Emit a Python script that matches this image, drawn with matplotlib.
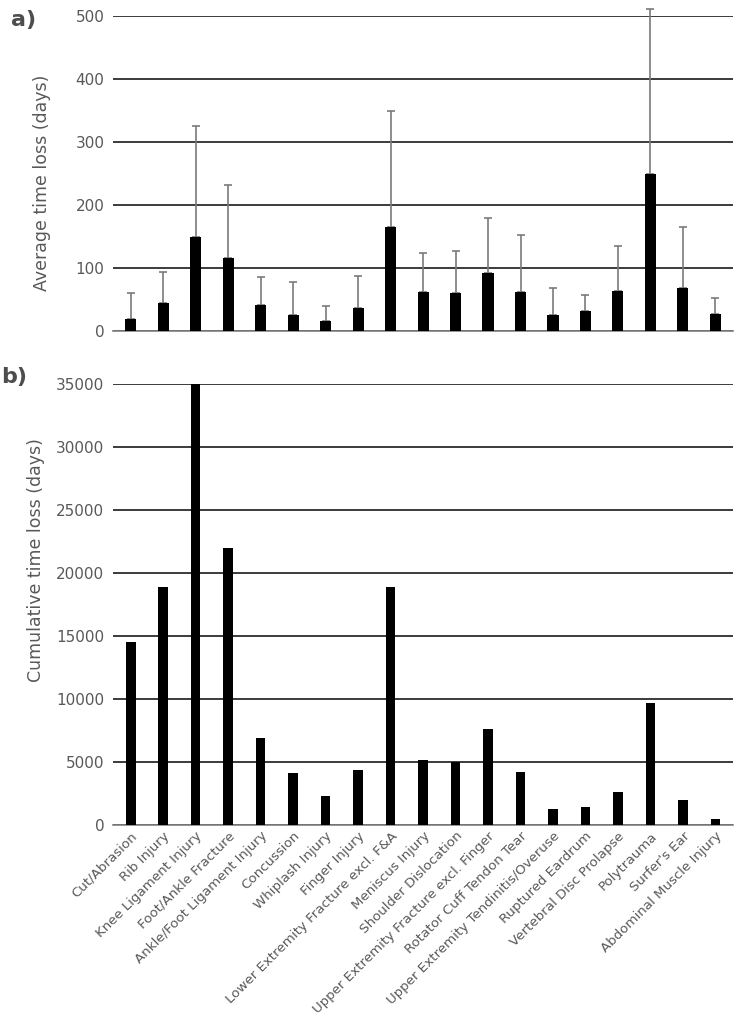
import numpy as np
import matplotlib
matplotlib.use("Agg")
import matplotlib.pyplot as plt

# Datos
categorias = ["Cut/Abrasion", "Rib Injury", "Knee Ligament Injury", "Foot/Ankle Fracture",
              "Ankle/Foot Ligament Injury", "Concussion", "Whiplash Injury", "Finger Injury",
              "Lower Extremity Fracture excl. F&A", "Meniscus Injury", "Shoulder Dislocation",
              "Upper Extremity Fracture excl. Finger", "Rotator Cuff Tendon Tear",
              "Upper Extremity Tendinitis/Overuse", "Ruptured Eardrum", "Vertebral Disc Prolapse",
              "Polytrauma", "Surfer's Ear", "Abdominal Muscle Injury"]
promedio = [19, 44, 149, 116, 41, 25, 16, 37, 165, 62, 60, 92, 62, 25, 32, 64, 249, 68, 27]
desviacion = [41, 50, 176, 116, 45, 53, 24, 51, 185, 61, 67, 88, 91, 43, 25, 71, 263, 97, 26]
acumulado = [14500, 18900, 35000, 22000, 6900, 4100, 2300, 4400, 18900, 5200, 5000,
             7600, 4200, 1300, 1450, 2600, 9650, 2000, 500]

gris = "#595959"
x = np.arange(len(categorias))

fig = plt.figure(figsize=(7.37, 10.15), dpi=100)
ax1 = fig.add_axes([0.153, 0.674, 0.842, 0.310])
ax2 = fig.add_axes([0.153, 0.187, 0.842, 0.435])

for ax in (ax1, ax2):
    for s in ("top", "right", "left"):
        ax.spines[s].set_visible(False)
    ax.spines["bottom"].set_color("#808080")
    ax.spines["bottom"].set_linewidth(1.2)
    ax.yaxis.grid(True, color="#1a1a1a", linewidth=1.2, zorder=0)
    ax.set_axisbelow(True)
    ax.tick_params(axis="both", length=0, labelcolor=gris, labelsize=11, pad=6)
    ax.set_xlim(-0.55, len(categorias) - 0.45)

# Panel a
ax1.bar(x, promedio, width=0.34, color="black", zorder=3)
ax1.errorbar(x, promedio, yerr=[np.zeros(len(x)), desviacion], fmt="none",
             ecolor="#7a7a7a", elinewidth=1.2, capsize=3, capthick=1.2,
             zorder=2, clip_on=False)
ax1.set_ylim(0, 500)
ax1.set_yticks([0, 100, 200, 300, 400, 500])
ax1.set_xticks([])
ax1.set_ylabel("Average time loss (days)", color=gris, fontsize=12.5)
ax1.yaxis.set_label_coords(-0.10, 0.47)

# Panel b
ax2.bar(x, acumulado, width=0.3, color="black", zorder=3)
ax2.set_ylim(0, 35000)
ax2.set_yticks(range(0, 35001, 5000))
ax2.set_xticks(x)
ax2.set_xticklabels(categorias, rotation=45, ha="right", rotation_mode="anchor",
                    fontsize=9.6, color=gris)
ax2.tick_params(axis="x", pad=3)
ax2.set_ylabel("Cumulative time loss (days)", color=gris, fontsize=12.5)
ax2.yaxis.set_label_coords(-0.11, 0.60)

fig.text(0.015, 0.99, "a)", fontsize=16, fontweight="bold", color="#4d4d4d", va="top")
fig.text(0.002, 0.638, "b)", fontsize=16, fontweight="bold", color="#4d4d4d", va="top")

fig.savefig("out.png", dpi=100)
